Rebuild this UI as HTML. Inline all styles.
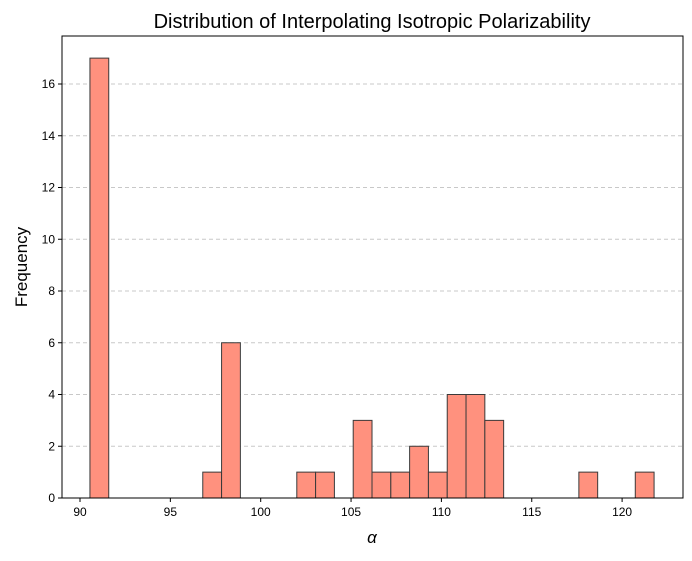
<!DOCTYPE html>
<html><head><meta charset="utf-8"><style>body{margin:0;background:#fff}svg{font-family:"Liberation Sans","DejaVu Sans",sans-serif}</style></head>
<body>
<svg id="chart" width="692" height="556" viewBox="0 0 692 556">
<text x="372" y="28" font-size="20" text-anchor="middle">Distribution of Interpolating Isotropic Polarizability</text>
<g id="grid"></g><g id="bars"></g><g id="axes"></g>
<text x="372" y="543" font-size="17" font-style="italic" text-anchor="middle">α</text>
<text x="27" y="267" font-size="17" text-anchor="middle" transform="rotate(-90 27 267)">Frequency</text>
</svg>
<script>
const binStart = 90.55;
const binEnd = 121.77;
const counts = [17,0,0,0,0,0,1,6,0,0,0,1,1,0,3,1,1,2,1,4,4,3,0,0,0,0,1,0,0,1];
const xTicks = [90,95,100,105,110,115,120];
const yTicks = [0,2,4,6,8,10,12,14,16];
const L=62,R=683,T=36,B=498;
const xs=v=>80+(v-90)*18.07;
const ys=v=>B-v*25.875;
const ns="http://www.w3.org/2000/svg";
function mk(tag,attrs,parent){const e=document.createElementNS(ns,tag);for(const k in attrs)e.setAttribute(k,attrs[k]);parent.appendChild(e);return e;}
const grid=document.getElementById('grid'),bars=document.getElementById('bars'),axes=document.getElementById('axes');
yTicks.forEach(t=>{
 if(t>0){const g=mk('line',{x1:L,x2:R,y1:ys(t),y2:ys(t),stroke:'#c8c8c8','stroke-dasharray':'4,3'},grid);
 
 }
 const tk=mk('line',{x1:L-4,x2:L,y1:ys(t),y2:ys(t),stroke:'#000'},axes);
 
 
 const tx=mk('text',{x:L-7,y:ys(t)+4,'font-size':12,'text-anchor':'end'},axes);tx.textContent=t;
 
 
});
xTicks.forEach(t=>{
 const tk=mk('line',{x1:xs(t),x2:xs(t),y1:B,y2:B+4,stroke:'#000'},axes);
 
 
 const tx=mk('text',{x:xs(t),y:B+18,'font-size':12,'text-anchor':'middle'},axes);tx.textContent=t;
 
 
});
const w=(binEnd-binStart)/counts.length;
counts.forEach((c,i)=>{
 if(c<=0)return;
 const x0=xs(binStart+i*w),x1=xs(binStart+(i+1)*w);
 const r=mk('rect',{x:x0,y:ys(c),width:x1-x0,height:B-ys(c),fill:'#ff917e',stroke:'#3a3a3a','stroke-width':1},bars);
 
 
});
const fr=mk('rect',{x:L,y:T,width:R-L,height:B-T,fill:'none',stroke:'#000','stroke-width':1},axes);


</script>
</body></html>
